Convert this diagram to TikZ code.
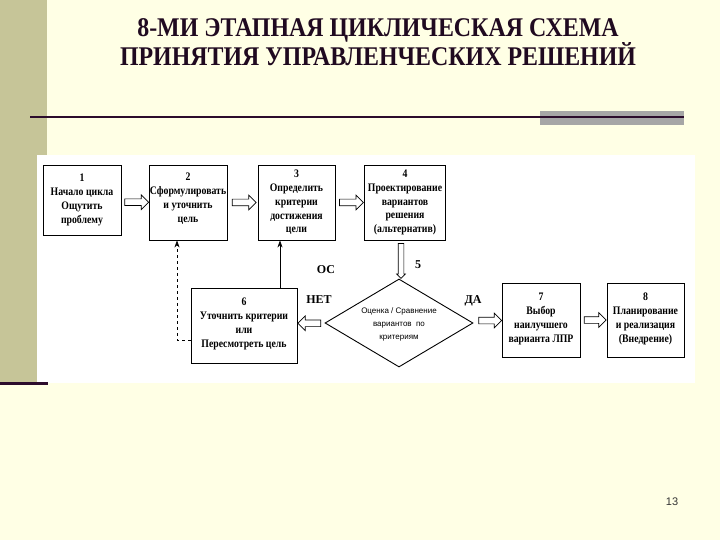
\documentclass[tikz,border=0pt]{standalone}
\usepackage{fontspec}
\setmainfont{Liberation Serif}[BoldFont={Liberation Serif Bold}]
\newfontfamily\sansf{Liberation Sans}
\newfontfamily\condf{Liberation Serif}[BoldFont={Liberation Serif Bold}, FakeStretch=0.85]
\newfontfamily\titlef{Liberation Serif}[BoldFont={Liberation Serif Bold}, FakeStretch=0.885]
\usetikzlibrary{shapes.geometric,shapes.arrows,arrows.meta,calc}
\definecolor{cream}{RGB}{255,255,229}
\definecolor{olive}{RGB}{198,197,152}
\definecolor{dpurple}{RGB}{44,12,44}
\definecolor{graybar}{RGB}{166,166,166}
\definecolor{titlecol}{RGB}{32,10,32}
\tikzset{
  stagebox/.style={draw, line width=0.9pt, fill=white, align=center, inner sep=0.5pt,
    font=\condf\bfseries\fontsize{11.5}{14}\selectfont},
  tallbox/.style={stagebox, font=\condf\bfseries\fontsize{11.5}{13.8}\selectfont},
  harrow/.style={single arrow, draw, line width=0.7pt, fill=white, inner sep=3pt,
    single arrow head extend=4pt, minimum width=0pt, single arrow head indent=0pt},
  lbl/.style={font=\bfseries\fontsize{12}{14}\selectfont, inner sep=0pt},
  decision/.style={diamond, draw, line width=0.9pt, fill=white, aspect=1.68, inner sep=0pt,
    minimum width=148pt, minimum height=88pt, align=center,
    font=\sansf\fontsize{8}{13}\selectfont},
  fb/.style={line width=0.7pt, -{Stealth[length=7pt,width=5pt]}}
}
\begin{document}
\begin{tikzpicture}[x=1pt,y=-1pt]
\useasboundingbox (0,0) rectangle (720,540);
\fill[cream] (0,0) rectangle (720,540);
\fill[olive] (0,0) rectangle (47,383);
\fill[white] (37,155) rectangle (695,383);
\fill[dpurple] (0,382) rectangle (48,385);
\fill[graybar] (540,111) rectangle (684,125);
\draw[dpurple, line width=2pt] (30,117) -- (684,117);

\node[titlecol, font=\titlef\bfseries\fontsize{27}{29}\selectfont, align=center] (title) at (378,42.5)
  {8-МИ ЭТАПНАЯ ЦИКЛИЧЕСКАЯ СХЕМА\\ПРИНЯТИЯ УПРАВЛЕНЧЕСКИХ РЕШЕНИЙ};

\node[stagebox, minimum width=78pt, minimum height=70pt] (b1) at (82,200)
  {1\\Начало цикла\\Ощутить\\проблему};
\node[stagebox, minimum width=78pt, minimum height=75pt] (b2) at (188,202.5)
  {2\\Сформулировать\\и уточнить\\цель\\[-4pt]\mbox{}};
\node[tallbox, minimum width=77pt, minimum height=75pt] (b3) at (296.5,202.5)
  {3\\Определить\\критерии\\достижения\\цели};
\node[tallbox, minimum width=81pt, minimum height=75pt] (b4) at (405,202.5)
  {4\\Проектирование\\вариантов\\решения\\(альтернатив)};
\node[decision] (d5) at (399,323) {\mbox{}\\[-4pt]Оценка / Сравнение\\вариантов~ по\\критериям};
\node[stagebox, minimum width=106pt, minimum height=75pt] (b6) at (244,325.5)
  {6\\Уточнить критерии\\или\\Пересмотреть цель\\[-8pt]\mbox{}};
\node[stagebox, minimum width=78pt, minimum height=74pt] (b7) at (541,320)
  {7\\Выбор\\наилучшего\\варианта ЛПР\\[-9pt]\mbox{}};
\node[stagebox, minimum width=77pt, minimum height=74pt] (b8) at (645.5,320)
  {8\\Планирование\\и реализация\\(Внедрение)\\[-9pt]\mbox{}};

\node[harrow, minimum height=24pt] (a12) at ($(b1.east)!0.5!(b2.west)+(0,1)$) {};
\node[harrow, minimum height=24pt] (a23) at ($(b2.east)!0.5!(b3.west)$) {};
\node[harrow, minimum height=24pt] (a34) at ($(b3.east)!0.5!(b4.west)$) {};
\node[harrow, minimum height=35pt, rotate=-90, inner sep=2.5pt, single arrow head extend=1.5pt] (a45)
  at ($(b4.south)!0.5!(d5.north)+(-1,0)$) {};
\node[harrow, minimum height=23pt, rotate=180] (a56) at ($(d5.west)!0.5!(b6.east)+(0,-1)$) {};
\node[harrow, minimum height=23pt] (a57) at ($(d5.east)!0.5!(b7.west)+(1,-1)$) {};
\node[harrow, minimum height=22pt] (a78) at ($(b7.east)!0.5!(b8.west)$) {};

\coordinate (fbs) at ($(b6.north)+(36,0)$);
\draw[fb] (fbs) -- (fbs |- b3.south);
\coordinate (dbs) at ($(b6.west)+(0,14.5)$);
\coordinate (dbe) at ($(b2.south)+(-11,0)$);
\draw[fb, dashed] (dbs) -| (dbe);

\node[lbl] (l5) at (418,265) {5};
\node[lbl] (loc) at (326,270) {ОС};
\node[lbl] (lno) at (319,300) {НЕТ};
\node[lbl] (lyes) at (473,301) {ДА};

\node[font=\sansf\fontsize{11}{13}\selectfont, text=black!80] (pg) at (672,502) {13};
\end{tikzpicture}
\end{document}
